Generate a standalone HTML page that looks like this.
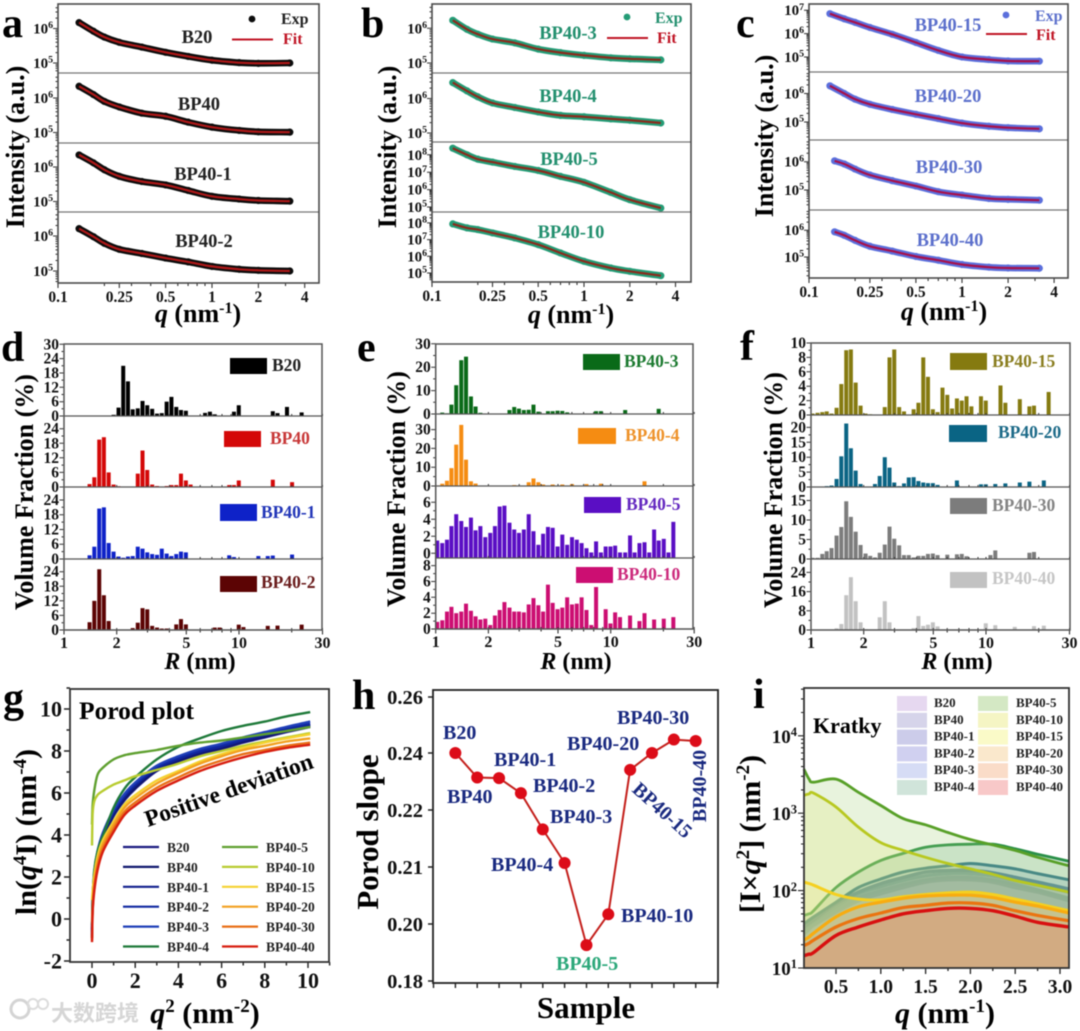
<!DOCTYPE html>
<html lang="en">
<head>
<meta charset="utf-8">
<title>SAXS analysis figure</title>
<style>
html,body{margin:0;padding:0;background:#fff;}
svg{display:block;filter:blur(0.45px);}
text{font-family:"Liberation Serif","Noto Serif CJK SC",serif;font-weight:bold;}
</style>
</head>
<body>
<svg id="figure" xmlns="http://www.w3.org/2000/svg" width="1080" height="1031" viewBox="0 0 1080 1031">
<rect width="1080" height="1031" fill="#fff"/>

<text x="2" y="37" font-size="42">a</text>
<text x="361" y="37" font-size="42">b</text>
<text x="736" y="37" font-size="42">c</text>
<text x="1" y="361" font-size="42">d</text>
<text x="357" y="361" font-size="42">e</text>
<text x="740" y="360" font-size="42">f</text>
<text x="3" y="712" font-size="42">g</text>
<text x="352" y="709" font-size="42">h</text>
<text x="753" y="708" font-size="42">i</text>

<text transform="translate(24,147) rotate(-90)" text-anchor="middle" font-size="26">Intensity (a.u.)</text>
<text transform="translate(396,147) rotate(-90)" text-anchor="middle" font-size="26">Intensity (a.u.)</text>
<text transform="translate(773,136) rotate(-90)" text-anchor="middle" font-size="26">Intensity (a.u.)</text>
<text x="198" y="322" text-anchor="middle" font-size="26"><tspan font-style="italic">q</tspan> (nm<tspan dy="-9" font-size="16">-1</tspan><tspan dy="9">)</tspan></text>
<text x="571" y="323" text-anchor="middle" font-size="26"><tspan font-style="italic">q</tspan> (nm<tspan dy="-9" font-size="16">-1</tspan><tspan dy="9">)</tspan></text>
<text x="944" y="320" text-anchor="middle" font-size="26"><tspan font-style="italic">q</tspan> (nm<tspan dy="-9" font-size="16">-1</tspan><tspan dy="9">)</tspan></text>

<text transform="translate(33,492) rotate(-90)" text-anchor="middle" font-size="26">Volume Fraction (%)</text>
<text transform="translate(405,489) rotate(-90)" text-anchor="middle" font-size="26">Volume Fraction (%)</text>
<text transform="translate(782,490) rotate(-90)" text-anchor="middle" font-size="26">Volume Fraction (%)</text>
<text x="200" y="669" text-anchor="middle" font-size="24"><tspan font-style="italic">R</tspan> (nm)</text>
<text x="576" y="669" text-anchor="middle" font-size="24"><tspan font-style="italic">R</tspan> (nm)</text>
<text x="957" y="669" text-anchor="middle" font-size="24"><tspan font-style="italic">R</tspan> (nm)</text>

<text transform="translate(36,832) rotate(-90)" text-anchor="middle" font-size="30">ln(<tspan font-style="italic">q</tspan><tspan dy="-10" font-size="19">4</tspan><tspan dy="10">I) (nm</tspan><tspan dy="-10" font-size="19">-4</tspan><tspan dy="10">)</tspan></text>
<text x="205" y="1023" text-anchor="middle" font-size="30"><tspan font-style="italic">q</tspan><tspan dy="-11" font-size="19">2</tspan><tspan dy="11"> (nm</tspan><tspan dy="-11" font-size="19">-2</tspan><tspan dy="11">)</tspan></text>
<text transform="translate(378,832) rotate(-90)" text-anchor="middle" font-size="31">Porod slope</text>
<text x="586" y="1018" text-anchor="middle" font-size="31">Sample</text>
<text transform="translate(760,834) rotate(-90)" text-anchor="middle" font-size="30">[I×<tspan font-style="italic">q</tspan><tspan dy="-11" font-size="19">2</tspan><tspan dy="11">] (nm</tspan><tspan dy="-11" font-size="19">-2</tspan><tspan dy="11">)</tspan></text>
<text x="945" y="1023" text-anchor="middle" font-size="30"><tspan font-style="italic">q</tspan> (nm<tspan dy="-11" font-size="19">-1</tspan><tspan dy="11">)</tspan></text>

<text x="79" y="719" font-size="25.5">Porod plot</text>
<text transform="translate(148,827) rotate(-19.6)" font-size="23.5">Positive deviation</text>
<text x="813" y="733" font-size="22">Kratky</text>

<g>
<circle cx="20" cy="1009" r="9" fill="none" stroke="#d4d4d4" stroke-width="3"/>
<circle cx="33" cy="1004" r="5" fill="none" stroke="#dcdcdc" stroke-width="2"/>
<circle cx="43" cy="1004" r="5" fill="none" stroke="#dcdcdc" stroke-width="2"/>
<text x="51" y="1021" font-size="22" fill="#d6d6d6" style="font-family:'Liberation Sans','Noto Sans CJK SC',sans-serif">大数跨境</text>
</g>

<script>
// ---------- panels a, b, c : scattering curves (log10 of intensity) ----------
const saxsQ = [0.137,0.17,0.2,0.25,0.35,0.5,0.7,1,1.5,2,3.2];
const saxsQLate = [0.147,0.17,0.2,0.25,0.35,0.5,0.7,1,1.5,2,3.2];
const logIB20 = [6.17,5.92,5.75,5.6,5.46,5.31,5.19,5.08,5.01,4.99,5.0];
const logIBP40 = [6.34,6.1,5.9,5.74,5.56,5.47,5.3,5.155,5.06,5.02,5.01];
const logIBP401 = [6.35,6.12,5.92,5.73,5.58,5.48,5.32,5.15,5.07,5.03,5.01];
const logIBP402 = [6.21,5.98,5.79,5.62,5.5,5.37,5.26,5.13,5.05,5.02,5.0];
const logIBP403 = [6.23,5.97,5.83,5.69,5.58,5.4,5.3,5.22,5.15,5.12,5.09];
const logIBP404 = [6.46,6.22,6.05,5.87,5.74,5.61,5.51,5.47,5.41,5.37,5.29];
const logIBP405 = [8.38,8.0,7.75,7.58,7.33,7.1,6.76,6.42,5.84,5.42,4.94];
const logIBP4010 = [7.94,7.7,7.6,7.4,7.1,6.7,6.2,5.7,5.3,5.1,4.84];
const logIBP4015 = [6.85,6.63,6.48,6.26,5.97,5.62,5.28,5.0,4.89,4.83,4.82];
const logIBP4020 = [6.27,6.0,5.8,5.62,5.44,5.27,5.12,4.96,4.85,4.8,4.76];
const logIBP4030 = [6.03,5.92,5.74,5.53,5.33,5.14,4.94,4.82,4.7,4.67,4.64];
const logIBP4040 = [5.94,5.81,5.62,5.4,5.22,5.02,4.88,4.72,4.62,4.59,4.58];
const saxsXTicks = [0.1,0.25,0.5,1,2,4];
const saxsXTickLabels = ['0.1','0.25','0.5','1','2','4'];
const saxsXMinor = [0.2,0.3,0.4,0.6,0.7,0.8,0.9,3];

// ---------- panels d, e, f : pore size distribution ----------
const binR = [1.02,1.09,1.16,1.23,1.31,1.40,1.49,1.59,1.69,1.80,1.92,2.05,2.18,2.32,2.47,2.64,2.81,2.99,3.19,3.40,3.62,3.86,4.11,4.38,4.66,4.97,5.29,5.64,6.01,6.40,6.82,7.27,7.74,8.25,8.79,9.36,9.97,10.6,11.3,12.1,12.9,13.7,14.6,15.6,16.6,17.7,18.8,20.1,21.4,22.8];
const pctB20 = [0,0,0,0,0,0,0,0,0,0,.5,3.5,21,14.5,2.8,3.2,6.3,4.5,3,1,1.2,6,8,3.8,2.5,2.2,0,0,0,1.3,1.8,.7,0,0,0,1.8,4.5,0,0,0,0,0,0,2,1.2,0,3.8,0,0,1.5];
const pctBP40 = [0,0,0,0,0,1.2,4,19.5,20.5,6,1,.3,0,0,.2,5.5,15,7,1,.4,0,.4,.8,.8,5.5,2.7,1,0,0,0,0,0,0,0,.8,.8,2.7,0,0,0,0,0,0,3,0,0,0,2,0,0];
const pctBP401 = [0,0,0,.1,0,1.5,5,20.5,21,6.5,3,1,.5,1,1.2,5,4.2,2.7,2,1.7,4.2,2.2,1.2,2,3,2.7,0,0,0,0,0,0,0,0,1.5,.8,0,0,0,0,1.2,0,1.2,1.4,0,0,0,1.8,0,0];
const pctBP402 = [0,0,0,0,0,3.2,12,25,14.3,3.7,0,0,0,0,.8,3,9,8.5,1.7,1,.6,.6,0,2.3,4.5,2.3,0,0,0,0,0,1,1,0,0,0,2.2,1.2,0,0,0,0,1.7,0,1.8,0,0,0,0,2.2];
const pctBP403 = [0,.6,.3,4,12.3,23,24.5,7.5,3.2,.5,0,0,0,0,0,1.7,3,2.3,1.7,1.8,4,1,0,1.2,1.2,1.4,1.3,.7,0,0,0,0,0,1.2,1.2,0,0,0,0,1.7,0,0,0,0,0,0,2.2,0,0,0];
const pctBP404 = [.3,1.2,2.8,9.5,22,32.5,14,2.5,1.3,0,0,0,0,0,0,0,.5,0,0,2,4,2,.8,0,.8,0,.8,0,1,0,0,1,0,0,1.2,0,0,0,0,0,0,0,0,2.5,0,0,0,0,0,0];
const pctBP405 = [1.5,1.2,1.6,3.2,4.6,3.8,3.1,4.2,2.7,3.2,1.9,2.4,3.2,5.5,5.6,3.6,2.8,2.4,2.8,4.6,2.6,1,2.3,3.1,3,.8,2.2,1,1.9,1.6,1.2,.6,.1,1.4,.1,.8,.8,.9,.1,.1,2.1,.1,1.2,1.3,.1,2.8,1.5,1.7,.1,3.7];
const pctBP4010 = [.9,1.1,2.2,2.8,2,2.2,3.2,2.3,1.6,1.2,1.3,.5,1.7,2.4,3.4,2.7,2.2,2.2,2.1,3.1,3.9,3,2.2,5.6,3.3,2.5,2.7,4,3.1,3.2,4,2.4,.5,5.3,0,2.5,.7,2.1,1.5,0,1.7,0,1,2,0,1.2,0,1.3,0,1.5];
const pctBP4015 = [.2,.3,.4,.5,.2,1,4.3,9,9.1,4.5,1.3,.2,.1,0,0,1.1,8,9.1,1.1,.5,0,.8,1.7,8,5.3,.8,.4,3.8,2.8,.9,2.3,2,2.6,1.2,0,2.6,2,0,0,4.1,1.7,0,0,2.2,0,1.2,1.3,0,0,3.2];
const pctBP4020 = [0,0,0,.3,.5,2.7,10.3,21.3,13,5.5,1,0,0,1,3.7,10,6.5,1.5,.3,1.2,3.2,3.3,2,1.5,1.3,1.3,.7,0,0,0,2.2,0,0,0,0,.9,.9,0,1,0,1.2,0,0,1.5,0,1.8,0,0,2.2,0];
const pctBP4030 = [.3,.3,1.3,2,2.8,6,8.2,14.8,10.8,7,3.6,1.4,.8,.4,1.6,3.7,8.3,5.2,3.5,1,1,.4,.8,.8,1.3,1.4,1,0,1.1,0,1.2,1.3,.7,0,0,0,0,1,2.2,0,0,0,0,0,0,1.6,1.8,0,0,0];
const pctBP4040 = [0,0,0,0,.1,.7,2.5,14.5,22,12,3.2,.3,.2,0,5.3,12,3.2,.2,0,0,0,.8,5.8,1.7,2.2,3.2,1.5,0,0,0,0,0,0,0,0,0,2.8,0,2,0,0,0,1.3,0,0,0,1.6,0,1.8,0];
const rTicks = [1,2,5,10,30];
const rTickLabels = ['1','2','5','10','30'];
const rMinor = [3,4,6,7,8,9,20];

// ---------- panel g : Porod plot ----------
const sampleNames = ['B20','BP40','BP40-1','BP40-2','BP40-3','BP40-4','BP40-5','BP40-10','BP40-15','BP40-20','BP40-30','BP40-40'];
const porodX = [0,.03,.1,.25,.5,1,1.5,2,3,4,5,6,7,8,9,10.1];
const porodB20 = [-.5,.6,1.85,2.9,3.8,4.9,5.65,6.2,7.05,7.5,7.85,8.1,8.4,8.65,8.9,9.15];
const porodBP40 = [-.6,.7,1.9,2.95,3.85,4.95,5.7,6.25,7.1,7.55,7.9,8.15,8.45,8.7,8.95,9.2];
const porodBP401 = [-.8,.8,2,3.05,3.95,5.05,5.8,6.35,7.15,7.6,7.95,8.2,8.5,8.75,9,9.25];
const porodBP402 = [-.9,.9,2.1,3.1,4,5.1,5.85,6.4,7.2,7.65,8,8.25,8.55,8.8,9.05,9.3];
const porodBP403 = [-.9,1,2.2,3.2,4.1,5.2,5.95,6.5,7.3,7.75,8.1,8.35,8.65,8.9,9.15,9.4];
const porodBP404 = [-.3,1,2.3,3.2,3.95,5.3,6.2,6.75,7.6,8.2,8.6,8.95,9.2,9.4,9.65,9.85];
const porodBP405 = [4.5,5.4,6.1,6.85,7.2,7.6,7.8,7.9,8.05,8.25,8.4,8.5,8.65,8.8,8.95,9.15];
const porodBP4010 = [3.5,5,5.6,5.9,6.1,6.4,6.6,6.8,7.1,7.4,7.75,8,8.25,8.45,8.65,8.85];
const porodBP4015 = [.9,1.3,2.05,2.95,3.75,4.65,5.45,5.9,6.6,7.05,7.5,7.85,8.15,8.4,8.6,8.8];
const porodBP4020 = [-.9,.6,1.65,2.7,3.55,4.5,5.3,5.75,6.45,6.95,7.4,7.75,8.05,8.25,8.45,8.6];
const porodBP4030 = [-1,.4,1.45,2.45,3.35,4.3,5.1,5.55,6.25,6.75,7.2,7.55,7.85,8.05,8.25,8.4];
const porodBP4040 = [-1.1,.3,1.3,2.3,3.2,4.15,4.95,5.4,6.1,6.6,7.05,7.4,7.7,7.95,8.15,8.3];
const porodXTicks = [0,2,4,6,8,10];
const porodYTicks = [-2,0,2,4,6,8,10];

// ---------- panel h : Porod slope ----------
const slopeValues = [.24,.2314,.2312,.2259,.2166,.2107,.1926,.2017,.2341,.24,.2448,.2443];
const slopeTicks = [.18,.20,.21,.22,.24,.26];
const slopeTickLabels = ['0.18','0.20','0.21','0.22','0.24','0.26'];

// ---------- panel i : Kratky plot (log10 of I*q^2) ----------
const kratkyQ = [.142,.2,.25,.5,.75,1,1.25,1.5,1.75,2,2.25,2.5,2.75,3.1];
const kratkyB20 = [1.44,1.5,1.55,1.72,1.87,1.96,2.04,2.11,2.14,2.14,2.11,2.04,1.98,1.87];
const kratkyBP40 = [1.49,1.53,1.57,1.74,1.91,2,2.08,2.14,2.17,2.17,2.14,2.08,2.01,1.9];
const kratkyBP401 = [1.51,1.56,1.6,1.79,1.96,2.05,2.13,2.19,2.22,2.22,2.19,2.13,2.07,1.98];
const kratkyBP402 = [1.53,1.58,1.62,1.83,1.98,2.09,2.17,2.24,2.26,2.26,2.23,2.17,2.11,2.02];
const kratkyBP403 = [1.57,1.62,1.66,1.85,2.04,2.15,2.24,2.29,2.32,2.35,2.32,2.28,2.22,2.14];
const kratkyBP404 = [1.68,1.7,1.74,2.04,2.24,2.39,2.48,2.56,2.59,2.6,2.6,2.54,2.47,2.38];
const kratkyBP405 = [3.57,3.44,3.4,3.44,3.27,3.1,2.93,2.85,2.75,2.66,2.59,2.52,2.43,2.32];
const kratkyBP4010 = [3.23,3.25,3.26,3.08,2.82,2.62,2.52,2.43,2.35,2.28,2.21,2.13,2.07,1.98];
const kratkyBP4015 = [2.11,2.09,2.07,1.95,1.89,1.88,1.92,1.95,1.97,1.98,1.95,1.89,1.83,1.74];
const kratkyBP4020 = [1.36,1.4,1.45,1.66,1.79,1.85,1.9,1.93,1.94,1.94,1.91,1.85,1.8,1.71];
const kratkyBP4030 = [1.29,1.32,1.36,1.53,1.64,1.71,1.78,1.81,1.84,1.84,1.81,1.74,1.68,1.61];
const kratkyBP4040 = [1.16,1.18,1.2,1.42,1.53,1.62,1.7,1.74,1.77,1.77,1.74,1.67,1.59,1.53];
const kratkyXTicks = [.5,1,1.5,2,2.5,3];
const kratkyXLabels = ['0.5','1.0','1.5','2.0','2.5','3.0'];
const kratkyYExp = [1,2,3,4];

// ---------- drawing helpers ----------
const NS = 'http://www.w3.org/2000/svg';
const root = document.getElementById('figure');
function mk(tag, attrs, parent, txt) {
  const e = document.createElementNS(NS, tag);
  for (const k in attrs) e.setAttribute(k, attrs[k]);
  if (txt !== undefined) e.textContent = txt;
  (parent || root).appendChild(e);
  return e;
}
function group(name) {
  const g = mk('g', {});
  
  
  return g;
}
function label(parent, x, y, s, size, color, anchor, name) {
  const t = mk('text', {x: x, y: y, 'font-size': size, fill: color || '#111', 'text-anchor': anchor || 'start'}, parent, s);
  
  
  return t;
}
function expLabel(parent, x, y, base, exp, size, name) {
  const t = mk('text', {x: x, y: y, 'font-size': size, fill: '#111', 'text-anchor': 'end'}, parent);
  
  
  mk('tspan', {}, t, base);
  mk('tspan', {dy: -size * 0.36, 'font-size': size * 0.66}, t, exp);
  return t;
}
function smooth(p) {
  let d = 'M' + p[0][0].toFixed(1) + ' ' + p[0][1].toFixed(1);
  for (let i = 0; i < p.length - 1; i++) {
    const a = p[Math.max(i - 1, 0)], b = p[i], c = p[i + 1], e = p[Math.min(i + 2, p.length - 1)];
    d += 'C' + (b[0] + (c[0] - a[0]) / 6).toFixed(1) + ' ' + (b[1] + (c[1] - a[1]) / 6).toFixed(1) + ' ' +
         (c[0] - (e[0] - b[0]) / 6).toFixed(1) + ' ' + (c[1] - (e[1] - b[1]) / 6).toFixed(1) + ' ' +
         c[0].toFixed(1) + ' ' + c[1].toFixed(1);
  }
  return d;
}
function tickPath(parent, d, color, width, name) {
  const p = mk('path', {d: d, stroke: color, 'stroke-width': width, fill: 'none'}, parent);
  
  
  return p;
}
function frameRect(parent, x0, y0, x1, y1, color, width, name) {
  const r = mk('rect', {x: x0, y: y0, width: x1 - x0, height: y1 - y0, fill: 'none', stroke: color, 'stroke-width': width}, parent);
  
  
  return r;
}

// ---------- scattering panels ----------
function saxsPanel(c) {
  const g = group(c.id);
  const xOf = q => c.x0 + c.xDec * (Math.log10(q) + 1);
  c.subs.forEach(s => {
    const yOf = v => s.y5 - (v - 5) * s.dec;
    const sg = group(c.id + '-' + s.name + '-curves');
    g.appendChild(sg);
    const pts = s.q.map((q, i) => [xOf(q), yOf(s.logI[i])]);
    const exp = mk('path', {d: smooth(pts), fill: 'none', stroke: c.expColor, 'stroke-width': 6.6, 'stroke-linecap': 'round', 'stroke-linejoin': 'round'}, sg);
    
    
    pts.forEach(p => {
      const dot = mk('circle', {cx: p[0], cy: p[1], r: 3.6, fill: c.expColor}, sg);
      
      
    });
    const fit = mk('path', {d: smooth(pts), fill: 'none', stroke: c.fitColor, 'stroke-width': 2.2}, sg);
    
    
    label(g, s.labelX, s.labelY, s.name, 18.5, c.labelColor, 'middle', 'sample-label-' + s.name);
    let d = '';
    for (let e = 4; e <= 8; e++) {
      for (let m = 1; m < 10; m++) {
        const y = yOf(e + Math.log10(m));
        if (y < s.top + 1 || y > s.bottom - 1) continue;
        d += 'M' + c.x0 + ' ' + y.toFixed(1) + 'h' + (m === 1 ? -5 : -2.5);
      }
    }
    tickPath(g, d, '#333', 1, c.id + '-y-ticks-' + s.name);
    s.ticks.forEach(e => expLabel(g, c.x0 - 5, yOf(e) + 5, '10', String(e), 15, 'y-tick-label'));
  });
  let d = '';
  saxsXTicks.forEach(q => { d += 'M' + xOf(q).toFixed(1) + ' ' + c.y1 + 'v5'; });
  saxsXMinor.forEach(q => { d += 'M' + xOf(q).toFixed(1) + ' ' + c.y1 + 'v3'; });
  tickPath(g, d, '#333', 1.1, c.id + '-x-ticks');
  saxsXTicks.forEach((q, i) => label(g, xOf(q), c.y1 + 19, saxsXTickLabels[i], 15.5, '#111', 'middle', 'x-tick-label'));
  c.dividers.forEach(y => {
    const l = mk('line', {x1: c.x0, x2: c.x1, y1: y, y2: y, stroke: '#777', 'stroke-width': 1.3}, g);
    
    
  });
  frameRect(g, c.x0, c.y0, c.x1, c.y1, '#4a4a4a', 1.6, c.id + '-frame');
  const dot = mk('circle', {cx: c.legend.dotX, cy: c.legend.dotY, r: 3.4, fill: c.expColor}, g);
  
  
  label(g, c.legend.expX, c.legend.expY, 'Exp', 16, c.labelColor, 'start', 'legend-exp-label');
  const ln = mk('line', {x1: c.legend.lineX, x2: c.legend.lineX + 41, y1: c.legend.lineY, y2: c.legend.lineY, stroke: '#c01525', 'stroke-width': 2}, g);
  
  
  label(g, c.legend.fitX, c.legend.fitY, 'Fit', 16, '#c01525', 'start', 'legend-fit-label');
}

saxsPanel({id: 'panel-a', x0: 58, y0: 4, x1: 319, y1: 283, xDec: 154, dividers: [73, 143, 212],
  expColor: '#0c0c0c', fitColor: '#b01818', labelColor: '#222',
  legend: {dotX: 252, dotY: 19, expX: 281, expY: 24, lineX: 232, lineY: 39.5, fitX: 283, fitY: 44},
  subs: [
    {name: 'B20', q: saxsQ, logI: logIB20, y5: 63, dec: 34.5, ticks: [5, 6], top: 4, bottom: 73, labelX: 197, labelY: 43},
    {name: 'BP40', q: saxsQ, logI: logIBP40, y5: 132.5, dec: 34.5, ticks: [5, 6], top: 73, bottom: 143, labelX: 199, labelY: 110},
    {name: 'BP40-1', q: saxsQ, logI: logIBP401, y5: 201.5, dec: 34.5, ticks: [5, 6], top: 143, bottom: 212, labelX: 203, labelY: 180},
    {name: 'BP40-2', q: saxsQ, logI: logIBP402, y5: 271, dec: 35, ticks: [5, 6], top: 212, bottom: 283, labelX: 204, labelY: 247}
  ]});

saxsPanel({id: 'panel-b', x0: 432, y0: 4, x1: 691, y1: 282, xDec: 152, dividers: [73, 142, 212],
  expColor: '#249c76', fitColor: '#8c2a1c', labelColor: '#23906f',
  legend: {dotX: 627, dotY: 17, expX: 655, expY: 23, lineX: 607, lineY: 38, fitX: 657, fitY: 43},
  subs: [
    {name: 'BP40-3', q: saxsQ, logI: logIBP403, y5: 63, dec: 34.7, ticks: [5, 6], top: 4, bottom: 73, labelX: 568, labelY: 39},
    {name: 'BP40-4', q: saxsQ, logI: logIBP404, y5: 133, dec: 34.5, ticks: [5, 6], top: 73, bottom: 142, labelX: 568, labelY: 102},
    {name: 'BP40-5', q: saxsQ, logI: logIBP405, y5: 207, dec: 17.4, ticks: [5, 6, 7, 8], top: 142, bottom: 212, labelX: 569, labelY: 165},
    {name: 'BP40-10', q: saxsQ, logI: logIBP4010, y5: 273, dec: 16.7, ticks: [5, 6, 7, 8], top: 212, bottom: 282, labelX: 571, labelY: 238}
  ]});

saxsPanel({id: 'panel-c', x0: 809, y0: 4, x1: 1068, y1: 278, xDec: 153, dividers: [72, 140, 210],
  expColor: '#5b6fdc', fitColor: '#a8104a', labelColor: '#5c70cc',
  legend: {dotX: 1006, dotY: 15, expX: 1035, expY: 21, lineX: 986, lineY: 34, fitX: 1036, fitY: 40},
  subs: [
    {name: 'BP40-15', q: saxsQ, logI: logIBP4015, y5: 57, dec: 23.4, ticks: [5, 6, 7], top: 4, bottom: 72, labelX: 948, labelY: 31},
    {name: 'BP40-20', q: saxsQ, logI: logIBP4020, y5: 122, dec: 28.5, ticks: [5, 6], top: 72, bottom: 140, labelX: 948, labelY: 102},
    {name: 'BP40-30', q: saxsQLate, logI: logIBP4030, y5: 190, dec: 28.3, ticks: [5, 6], top: 140, bottom: 210, labelX: 949, labelY: 173},
    {name: 'BP40-40', q: saxsQLate, logI: logIBP4040, y5: 257, dec: 26.8, ticks: [5, 6], top: 210, bottom: 278, labelX: 950, labelY: 246}
  ]});

// ---------- bar panels ----------
function barsPanel(c) {
  const g = group(c.id);
  const xOf = r => c.x0 + 175 * Math.log10(r);
  c.subs.forEach(s => {
    const yOf = v => s.y0 - v * s.unit;
    const sg = group(c.id + '-' + s.name + '-bars');
    g.appendChild(sg);
    s.values.forEach((v, i) => {
      if (v <= 0) return;
      const top = yOf(v);
      const b = mk('rect', {x: (xOf(binR[i]) - 2).toFixed(2), y: top.toFixed(2), width: 4, height: (s.base - top).toFixed(2), fill: s.color}, sg);
      
      
    });
    let d = '';
    for (let i = 0; i < s.ticks.length; i++) {
      const y = yOf(s.ticks[i]);
      d += 'M' + c.x0 + ' ' + y.toFixed(1) + 'h-4.5';
      if (i + 1 < s.ticks.length) d += 'M' + c.x0 + ' ' + ((y + yOf(s.ticks[i + 1])) / 2).toFixed(1) + 'h-2.5';
      label(g, c.x0 - 5, y + 5, String(s.ticks[i]), 15.5, '#111', 'end', 'y-tick-label');
    }
    tickPath(g, d, '#333', 1, c.id + '-y-ticks-' + s.name);
    let inner = '';
    rTicks.concat(rMinor).forEach(r => { inner += 'M' + xOf(r).toFixed(1) + ' ' + s.base + 'v-2'; });
    tickPath(g, inner, '#333', 1, c.id + '-inner-ticks-' + s.name);
    const sw = mk('rect', {x: s.swatch[0], y: s.swatch[1], width: s.swatch[2], height: s.swatch[3], fill: s.color}, g);
    
    
    label(g, s.labelAt[0], s.labelAt[1], s.name, 17.5, s.labelColor || s.color, 'start', 'legend-label-' + s.name);
  });
  let d = '';
  rTicks.forEach(r => { d += 'M' + xOf(r).toFixed(1) + ' ' + c.y1 + 'v4.5'; });
  rMinor.forEach(r => { d += 'M' + xOf(r).toFixed(1) + ' ' + c.y1 + 'v2.5'; });
  tickPath(g, d, '#333', 1.1, c.id + '-x-ticks');
  rTicks.forEach((r, i) => label(g, xOf(r), c.y1 + 18, rTickLabels[i], 16, '#111', 'middle', 'x-tick-label'));
  c.dividers.forEach(y => {
    const l = mk('line', {x1: c.x0, x2: c.x1, y1: y, y2: y, stroke: '#555', 'stroke-width': 1.2}, g);
    
    
  });
  frameRect(g, c.x0, c.y0, c.x1, c.y1, '#555', 1.5, c.id + '-frame');
}

barsPanel({id: 'panel-d', x0: 64, y0: 344, x1: 322, y1: 630, dividers: [416, 487, 559], subs: [
  {name: 'B20', color: '#000', values: pctB20, y0: 416, base: 416, unit: 2.39, ticks: [0, 6, 12, 18, 24, 30], swatch: [230, 358, 37, 16], labelAt: [272, 371], labelColor: '#222'},
  {name: 'BP40', color: '#d40808', values: pctBP40, y0: 487, base: 487, unit: 2.43, ticks: [0, 6, 12, 18, 24], swatch: [224, 431, 37, 16], labelAt: [270, 444], labelColor: '#c83838'},
  {name: 'BP40-1', color: '#0e22c8', values: pctBP401, y0: 559, base: 559, unit: 2.46, ticks: [0, 6, 12, 18, 24], swatch: [220, 504, 37, 17], labelAt: [261, 518], labelColor: '#2236b8'},
  {name: 'BP40-2', color: '#5c0404', values: pctBP402, y0: 630, base: 630, unit: 2.43, ticks: [0, 6, 12, 18, 24], swatch: [220, 576, 37, 16], labelAt: [261, 588], labelColor: '#6a1c1c'}
]});

barsPanel({id: 'panel-e', x0: 435.7, y0: 344, x1: 693, y1: 629, dividers: [414, 486, 558], subs: [
  {name: 'BP40-3', color: '#0a6a18', values: pctBP403, y0: 414, base: 414, unit: 2.34, ticks: [0, 10, 20, 30], swatch: [583, 354, 37, 16], labelAt: [624, 367], labelColor: '#1c7a30'},
  {name: 'BP40-4', color: '#f58c12', values: pctBP404, y0: 486, base: 486, unit: 1.88, ticks: [0, 10, 20, 30], swatch: [578, 428, 38, 16], labelAt: [625, 441], labelColor: '#ee922a'},
  {name: 'BP40-5', color: '#5a0ec4', values: pctBP405, y0: 553.3, base: 558, unit: 8.5, ticks: [0, 2, 4, 6], swatch: [584, 497, 37, 16], labelAt: [626, 510], labelColor: '#6428c0'},
  {name: 'BP40-10', color: '#cc0e72', values: pctBP4010, y0: 629, base: 629, unit: 7.92, ticks: [0, 2, 4, 6, 8], swatch: [576, 567, 37, 16], labelAt: [617, 580], labelColor: '#cc2a7c'}
]});

barsPanel({id: 'panel-f', x0: 811, y0: 343, x1: 1070, y1: 630, dividers: [415, 487, 559], subs: [
  {name: 'BP40-15', color: '#857a10', values: pctBP4015, y0: 415, base: 415, unit: 7.2, ticks: [0, 2, 4, 6, 8, 10], swatch: [950, 353, 37, 17], labelAt: [992, 367], labelColor: '#8a7e20'},
  {name: 'BP40-20', color: '#0a6484', values: pctBP4020, y0: 487, base: 487, unit: 2.98, ticks: [0, 5, 10, 15, 20], swatch: [949, 425, 38, 17], labelAt: [998, 438], labelColor: '#1c6a88'},
  {name: 'BP40-30', color: '#7c7c7c', values: pctBP4030, y0: 559, base: 559, unit: 3.9, ticks: [0, 5, 10, 15], swatch: [950, 498, 37, 16], labelAt: [992, 511], labelColor: '#858585'},
  {name: 'BP40-40', color: '#c2c2c2', values: pctBP4040, y0: 630, base: 630, unit: 2.4, ticks: [0, 8, 16, 24], swatch: [950, 572, 37, 16], labelAt: [992, 584], labelColor: '#c6c6c6'}
]});

// ---------- Porod panel ----------
const porodColors = ['#1a1a80','#10186e','#101e8c','#1028a0','#2040b8','#1f7a3a','#5fa030','#b8cc30','#f5d230','#f2a020','#e87018','#d81f10'];
const porodSeries = [porodB20,porodBP40,porodBP401,porodBP402,porodBP403,porodBP404,porodBP405,porodBP4010,porodBP4015,porodBP4020,porodBP4030,porodBP4040];
(function () {
  const g = group('panel-g');
  const x = v => 92 + 21.6 * v;
  const y = v => 919 - 21 * v;
  porodSeries.forEach((vals, i) => {
    const pts = vals.map((v, j) => [x(porodX[j]), y(v)]);
    const p = mk('path', {d: smooth(pts), fill: 'none', stroke: porodColors[i], 'stroke-width': 2.4}, g);
    
    
  });
  let dx = '', dy = '';
  porodXTicks.forEach(v => {
    dx += 'M' + x(v) + ' 962v6';
    dx += 'M' + x(v + 1) + ' 962v3.5';
    label(g, x(v), 988, String(v), 22, '#111', 'middle', 'x-tick-label');
  });
  porodYTicks.forEach(v => {
    dy += 'M70 ' + y(v) + 'h-6';
    dy += 'M70 ' + y(v + 1) + 'h-3.5';
    label(g, 62, y(v) + 7.5, String(v), 22, '#111', 'end', 'y-tick-label');
  });
  tickPath(g, dx, '#222', 1.4, 'panel-g-x-ticks');
  tickPath(g, dy, '#222', 1.4, 'panel-g-y-ticks');
  frameRect(g, 70, 689, 329, 962, '#333', 1.8, 'panel-g-frame');
  sampleNames.forEach((n, i) => {
    const col = i < 6 ? 0 : 1;
    const ly = 847 + (i % 6) * 19.9;
    const lx = col ? 222 : 123;
    const l = mk('line', {x1: lx, x2: lx + 36, y1: ly, y2: ly, stroke: porodColors[i], 'stroke-width': 2.2}, g);
    
    
    label(g, col ? 266 : 167, ly + 5, n, 13.5, '#222', 'start', 'legend-label-' + n);
  });
})();

// ---------- Porod slope panel ----------
(function () {
  const g = group('panel-h');
  const x = i => 433.5 + 21.85 * (i + 1);
  const tickY = [981, 924, 867, 810, 753, 697];
  const y = v => {
    for (let i = 0; i < slopeTicks.length - 1; i++) {
      if (v <= slopeTicks[i + 1]) {
        return tickY[i] + (v - slopeTicks[i]) / (slopeTicks[i + 1] - slopeTicks[i]) * (tickY[i + 1] - tickY[i]);
      }
    }
    return tickY[tickY.length - 1];
  };
  let dx = '', dy = '';
  for (let i = 0; i <= 13; i++) dx += 'M' + (433.5 + 21.85 * i).toFixed(1) + ' 983v5';
  slopeTicks.forEach((v, i) => {
    dy += 'M433 ' + y(v).toFixed(1) + 'h-5';
    label(g, 423, y(v) + 7, slopeTickLabels[i], 20.5, '#111', 'end', 'y-tick-label');
  });
  tickPath(g, dx, '#222', 1.4, 'panel-h-x-ticks');
  tickPath(g, dy, '#222', 1.4, 'panel-h-y-ticks');
  frameRect(g, 433, 690, 718, 983, '#222', 1.8, 'panel-h-frame');
  const pts = slopeValues.map((v, i) => [x(i), y(v)]);
  const line = mk('polyline', {points: pts.map(p => p[0].toFixed(1) + ',' + p[1].toFixed(1)).join(' '), fill: 'none', stroke: '#c4201c', 'stroke-width': 2}, g);
  
  
  pts.forEach((p, i) => {
    const c = mk('circle', {cx: p[0], cy: p[1], r: 6, fill: '#dc0c18'}, g);
    
    
  });
  const navy = '#1a2a80';
  label(g, 443, 739, 'B20', 20, navy, 'start', 'point-label-B20');
  label(g, 447, 803, 'BP40', 20, navy, 'start', 'point-label-BP40');
  label(g, 494, 766, 'BP40-1', 20, navy, 'start', 'point-label-BP40-1');
  label(g, 533, 792, 'BP40-2', 20, navy, 'start', 'point-label-BP40-2');
  label(g, 550, 823, 'BP40-3', 20, navy, 'start', 'point-label-BP40-3');
  label(g, 491, 871, 'BP40-4', 20, navy, 'start', 'point-label-BP40-4');
  label(g, 556, 970, 'BP40-5', 20, '#2ca87a', 'start', 'point-label-BP40-5');
  label(g, 621, 922, 'BP40-10', 20, navy, 'start', 'point-label-BP40-10');
  label(g, 567, 750, 'BP40-20', 20, navy, 'start', 'point-label-BP40-20');
  label(g, 617, 724, 'BP40-30', 20, navy, 'start', 'point-label-BP40-30');
  const r15 = label(g, 0, 0, 'BP40-15', 20, navy, 'middle', 'point-label-BP40-15');
  r15.setAttribute('transform', 'translate(658,815) rotate(42)');
  const r40 = label(g, 0, 0, 'BP40-40', 20, navy, 'middle', 'point-label-BP40-40');
  r40.setAttribute('transform', 'translate(706,786) rotate(-90)');
})();

// ---------- Kratky panel ----------
const kratkyColors = ['#7a9a9c','#6c949c','#5d8aa0','#47749c','#1f6490','#2a9048','#58a028','#b8c820','#f5d020','#f8ac10','#ea7410','#d81010'];
const kratkyWidths = [3.5,3.5,3.5,3.5,3,2.8,2.8,2.8,3,3.2,3.2,3.4];
const kratkySeries = [kratkyB20,kratkyBP40,kratkyBP401,kratkyBP402,kratkyBP403,kratkyBP404,kratkyBP405,kratkyBP4010,kratkyBP4015,kratkyBP4020,kratkyBP4030,kratkyBP4040];
const kratkySwatches = ['#e6d8f0','#d6d4ea','#ccccea','#d0d0f0','#d6dcf5','#d0e4da','#d4e8c4','#f5f5c4','#fafac8','#fae8cc','#fadcc8','#f8c8c8'];
(function () {
  const g = group('panel-i');
  const x = q => 836 + (q - .5) * 89.6;
  const y = v => 968 - (v - 1) * 77.4;
  const fills = ['#a08ad0','#8a88c8','#7c80c8','#7080d0','#6a90c8','#5aa880','#a0cc70','#e0e870','#f0e880','#f5c080','#eea070','#e07868'];
  kratkySeries.forEach((vals, i) => {
    const pts = vals.map((v, j) => [x(kratkyQ[j]), y(v)]);
    const line = smooth(pts);
    const a = mk('path', {d: line + 'L' + pts[pts.length - 1][0].toFixed(1) + ' 968L' + pts[0][0].toFixed(1) + ' 968Z', fill: fills[i], 'fill-opacity': .24}, g);
    
    
    const p = mk('path', {d: line, fill: 'none', stroke: kratkyColors[i], 'stroke-width': kratkyWidths[i]}, g);
    
    
  });
  let dx = '', dy = '';
  kratkyXTicks.forEach((q, i) => {
    dx += 'M' + x(q).toFixed(1) + ' 968v6';
    dx += 'M' + x(q + .25).toFixed(1) + ' 968v3';
    label(g, x(q), 993, kratkyXLabels[i], 19.5, '#111', 'middle', 'x-tick-label');
  });
  kratkyYExp.forEach(e => {
    for (let m = 1; m < 10; m++) {
      const yy = y(e + Math.log10(m));
      if (yy < 689) continue;
      dy += 'M804 ' + yy.toFixed(1) + 'h' + (m === 1 ? -6 : -3);
    }
    expLabel(g, 797, y(e) + 7, '10', String(e), 19, 'y-tick-label');
  });
  tickPath(g, dx, '#222', 1.3, 'panel-i-x-ticks');
  tickPath(g, dy, '#222', 1.1, 'panel-i-y-ticks');
  frameRect(g, 804, 688, 1069, 968, '#333', 1.8, 'panel-i-frame');
  sampleNames.forEach((n, i) => {
    const col = i < 6 ? 0 : 1;
    const row = i % 6;
    const sx = col ? 978 : 897;
    const s = mk('rect', {x: sx, y: 696 + row * 16.8, width: 30, height: 15, fill: kratkySwatches[i]}, g);
    
    
    label(g, col ? 1016 : 934, 707 + row * 16.8, n, 13, '#222', 'start', 'legend-label-' + n);
  });
})();
</script>
</svg>
</body>
</html>
